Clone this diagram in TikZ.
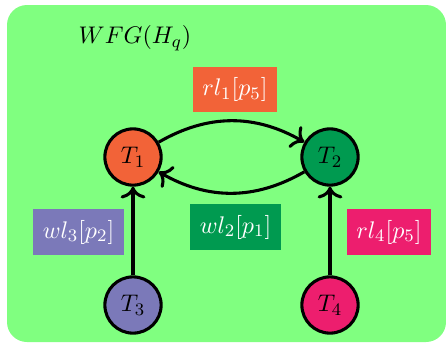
\documentclass[tikz,border=0pt]{standalone}
\usepackage{amsmath}
\usepackage{xcolor}
\usepackage{tikz}
\usetikzlibrary{arrows.meta}

\definecolor{tOrange}{RGB}{242,99,56}
\definecolor{tPurple}{RGB}{123,121,185}
\definecolor{tGreen}{RGB}{0,154,80}
\definecolor{tPink}{RGB}{237,30,110}
\definecolor{wfgBack}{RGB}{128,255,128}

\tikzset{
  txn/.style={circle, draw=black, line width=1.4pt, minimum size=0.9cm, inner sep=0pt},
  lockbox/.style={text=white, minimum width=1.4cm, minimum height=0.73cm, inner sep=2pt},
  waitarrow/.style={line width=1.4pt, -{To[scale=1.15]}}
}

\begin{document}
\begin{tikzpicture}[every node/.style={font=\fontsize{10.9}{13}\selectfont}]
        \useasboundingbox (0,0) rectangle (7.136,5.488);
        % 背景
        \fill[wfgBack, rounded corners=0.32cm] (0.112,0.016) rectangle (7.136,5.408);
        \node (title) at (2.16,4.88) {$WFG(H_q)$};

        % 事务
        \node[txn, fill=tOrange] (T1) at (2.128,2.976) {$T_1$};
        \node[txn, fill=tGreen] (T2) at (5.28,2.976) {$T_2$};
        \node[txn, fill=tPurple] (T3) at (2.128,0.608) {$T_3$};
        \node[txn, fill=tPink] (T4) at (5.28,0.608) {$T_4$};

        % 锁
        \node[lockbox, fill=tOrange, minimum width=1.344cm] (rl1) at (3.76,4.056) {$rl_1[p_5]$};
        \node[lockbox, fill=tPurple, minimum width=1.456cm] (wl3) at (1.256,1.776) {$wl_3[p_2]$};
        \node[lockbox, fill=tGreen, minimum width=1.456cm] (wl2) at (3.768,1.856) {$wl_2[p_1]$};
        \node[lockbox, fill=tPink, minimum width=1.344cm] (rl4) at (6.224,1.776) {$rl_4[p_5]$};

        % 等待边
        \draw[waitarrow] (T1) to[bend left=30] (T2);
        \draw[waitarrow] (T2) to[bend left=30] (T1);
        \draw[waitarrow] (T3) -- (T1);
        \draw[waitarrow] (T4) -- (T2);
    \end{tikzpicture}
\end{document}
